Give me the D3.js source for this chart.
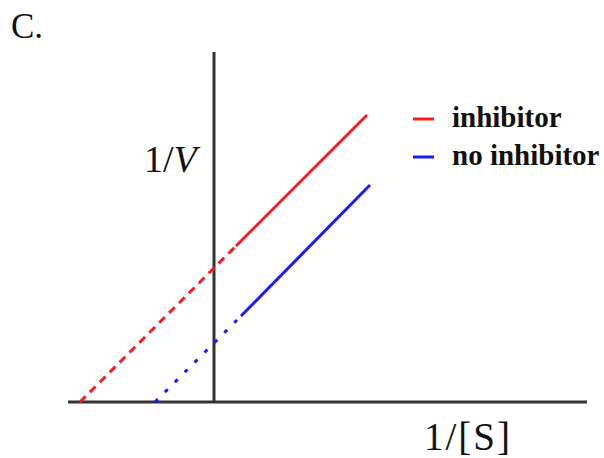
<!DOCTYPE html>
<html>
<head>
<meta charset="utf-8">
<script src="https://cdn.jsdelivr.net/npm/d3@7"></script>
<style>
  body { margin: 0; background: #fff; }
  text { font-family: "Times New Roman", "Liberation Serif", "DejaVu Serif", serif; fill: #111; }
</style>
</head>
<body>
<div id="chart"></div>
<script>
var width = 604
var height = 458

// Lineweaver-Burk style lines, x = 1/[S], y = 1/V (arbitrary units)
var seriesNames = ["inhibitor", "no inhibitor"]
var seriesColors = ["#ff1a1a", "#1a1aff"]
// [x-intercept, switch from extrapolated to measured, end]
var redX = [-2.68, 0.44, 3.06]
var redY = [0, 3.12, 5.74]
var blueX = [-1.18, 0.54, 3.12]
var blueY = [0, 1.72, 4.34]

var xScale = d3.scaleLinear().domain([-2.92, 7.46]).range([68, 587])
var yScale = d3.scaleLinear().domain([0, 7]).range([402, 52])

var svg = d3.select("#chart").append("svg")
    .attr("width", width).attr("height", height)

// axes (plain lines, no ticks)
svg.append("line")
    .attr("x1", xScale(-2.92)).attr("x2", xScale(7.46))
    .attr("y1", yScale(0)).attr("y2", yScale(0))
    .attr("stroke", "#333").attr("stroke-width", 3)
svg.append("line")
    .attr("x1", xScale(0)).attr("x2", xScale(0))
    .attr("y1", yScale(0)).attr("y2", yScale(7))
    .attr("stroke", "#333").attr("stroke-width", 3)

function drawSeries(xs, ys, color, dash) {
    // extrapolated part
    svg.append("line")
        .attr("x1", xScale(xs[0])).attr("y1", yScale(ys[0]))
        .attr("x2", xScale(xs[1])).attr("y2", yScale(ys[1]))
        .attr("stroke", color).attr("stroke-width", 3)
        .attr("stroke-dasharray", dash)
    // measured part
    svg.append("line")
        .attr("x1", xScale(xs[1])).attr("y1", yScale(ys[1]))
        .attr("x2", xScale(xs[2])).attr("y2", yScale(ys[2]))
        .attr("stroke", color).attr("stroke-width", 3)
}
drawSeries(redX, redY, seriesColors[0], "8,6")
drawSeries(blueX, blueY, seriesColors[1], "4,10")

// legend
var legend = svg.selectAll(".legend")
    .data(seriesNames).enter()
    .append("g")
    .attr("class", "legend")
    .attr("transform", function(d, i) { return "translate(413," + (119 + i * 38) + ")" })
legend.append("line")
    .attr("x1", 0).attr("x2", 21)
    .attr("stroke", function(d, i) { return seriesColors[i] })
    .attr("stroke-width", 3)
legend.append("text")
    .attr("x", 39).attr("y", 8)
    .style("font-size", "29px").style("font-weight", "bold")
    .text(function(d) { return d })

// labels
svg.append("text").attr("x", 11).attr("y", 38)
    .style("font-size", "35px").text("C.")
var yl = svg.append("text").attr("x", 144).attr("y", 172).style("font-size", "38px")
yl.append("tspan").text("1/")
yl.append("tspan").style("font-style", "italic").text("V")
svg.append("text").attr("x", 424).attr("y", 450)
    .style("font-size", "39px").style("letter-spacing", "2px").text("1/[S]")
</script>
</body>
</html>
